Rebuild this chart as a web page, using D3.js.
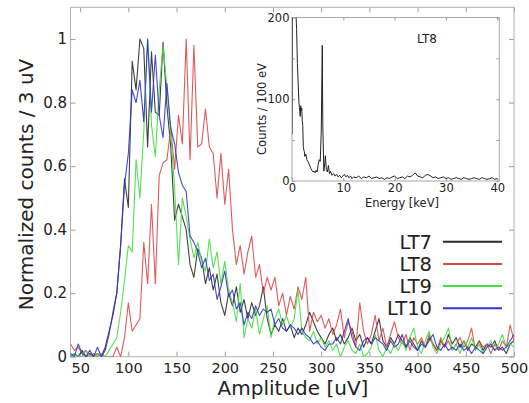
<!DOCTYPE html>
<html>
<head>
<meta charset="utf-8">
<script src="https://cdn.jsdelivr.net/npm/d3@7"></script>
<style>
  body { margin: 0; background: #fff; }
  svg { display: block; }
  text { font-family: "DejaVu Sans", sans-serif; fill: #222; }
</style>
</head>
<body>
<svg id="chart" width="529" height="403"></svg>
<script>
// ── Data: pulse amplitude spectra, 4 uV bins starting at 40 uV ──────────────
const binStart = 40;
const binWidth = 4;

const lt7 = [0.00,0.01,0.00,0.02,0.00,0.01,0.00,0.01,0.00,0.03,
  0.08,0.13,0.20,0.35,0.56,0.47,0.93,0.84,1.00,0.97,
  0.66,0.96,0.77,0.76,0.99,0.79,0.66,0.43,0.48,0.44,
  0.40,0.29,0.25,0.34,0.31,0.23,0.28,0.21,0.26,0.17,
  0.13,0.20,0.16,0.22,0.14,0.18,0.12,0.17,0.13,0.16,
  0.22,0.12,0.07,0.10,0.08,0.12,0.08,0.10,0.06,0.09,
  0.07,0.10,0.14,0.11,0.08,0.06,0.04,0.07,0.09,0.05,
  0.07,0.04,0.06,0.09,0.05,0.07,0.03,0.06,0.04,0.08,
  0.12,0.05,0.03,0.06,0.04,0.07,0.05,0.03,0.06,0.04,
  0.02,0.05,0.03,0.06,0.04,0.02,0.05,0.03,0.07,0.04,
  0.06,0.03,0.05,0.02,0.04,0.03,0.05,0.02,0.04,0.03,
  0.05,0.02,0.03,0.01,0.04,0.05];

const lt8 = [0.04,0.02,0.03,0.01,0.02,0.00,0.01,0.00,0.01,0.00,
  0.00,0.00,0.03,0.00,0.06,0.17,0.08,0.10,0.12,0.36,
  0.23,0.48,0.23,0.57,0.61,0.62,0.72,0.59,0.76,0.67,
  1.00,0.62,0.98,0.66,0.67,0.78,0.66,0.64,0.50,0.64,
  0.48,0.59,0.40,0.29,0.35,0.26,0.33,0.38,0.25,0.29,
  0.20,0.25,0.21,0.25,0.16,0.20,0.13,0.19,0.15,0.22,
  0.18,0.25,0.08,0.14,0.11,0.13,0.09,0.12,0.07,0.10,
  0.15,0.06,0.11,0.08,0.03,0.17,0.08,0.04,0.07,0.13,
  0.05,0.09,0.03,0.07,0.11,0.06,0.04,0.07,0.02,0.06,
  0.04,0.06,0.03,0.07,0.04,0.02,0.06,0.03,0.05,0.02,
  0.04,0.06,0.03,0.05,0.09,0.02,0.05,0.03,0.04,0.01,
  0.04,0.02,0.05,0.03,0.10,0.05];

const lt9 = [0.00,0.01,0.00,0.00,0.02,0.00,0.00,0.01,0.00,0.00,
  0.02,0.04,0.06,0.14,0.24,0.35,0.33,0.62,0.50,0.71,
  1.00,0.73,0.63,0.84,0.98,0.85,0.70,0.53,0.29,0.50,
  0.44,0.37,0.31,0.36,0.30,0.27,0.37,0.28,0.33,0.23,
  0.30,0.21,0.17,0.11,0.23,0.06,0.12,0.09,0.15,0.07,
  0.12,0.16,0.06,0.12,0.15,0.10,0.13,0.09,0.12,0.21,
  0.08,0.06,0.05,0.08,0.04,0.06,0.03,0.05,0.02,0.04,
  0.00,0.03,0.05,0.02,0.01,0.04,0.00,0.01,0.03,0.07,
  0.02,0.00,0.03,0.01,0.04,0.02,0.05,0.02,0.06,0.09,
  0.03,0.01,0.05,0.08,0.03,0.01,0.04,0.06,0.09,0.02,
  0.04,0.01,0.05,0.03,0.06,0.02,0.04,0.01,0.03,0.05,
  0.02,0.04,0.07,0.03,0.04,0.03];

const lt10 = [0.01,0.00,0.04,0.01,0.00,0.02,0.00,0.03,0.00,0.02,
  0.07,0.14,0.20,0.35,0.54,0.64,0.84,0.80,0.87,0.74,
  1.00,0.77,0.95,0.76,0.69,0.86,0.72,0.67,0.58,0.54,
  0.52,0.38,0.36,0.33,0.28,0.31,0.24,0.26,0.18,0.22,
  0.27,0.19,0.21,0.15,0.17,0.10,0.14,0.12,0.16,0.13,
  0.15,0.14,0.15,0.10,0.12,0.09,0.08,0.10,0.09,0.07,
  0.09,0.07,0.06,0.04,0.05,0.03,0.02,0.04,0.04,0.06,
  0.04,0.08,0.12,0.06,0.03,0.02,0.05,0.06,0.04,0.06,
  0.05,0.04,0.02,0.05,0.03,0.04,0.07,0.03,0.05,0.03,
  0.02,0.04,0.03,0.05,0.07,0.03,0.02,0.04,0.02,0.03,
  0.02,0.04,0.02,0.03,0.01,0.03,0.02,0.01,0.03,0.04,
  0.02,0.03,0.02,0.03,0.05,0.07];

const seriesNames = ['LT7', 'LT8', 'LT9', 'LT10'];
const seriesValues = [lt7, lt8, lt9, lt10];
const seriesColors = ['#2a2a2a', '#dd4848', '#44dd44', '#3434cc'];

const xTicks = [50, 100, 150, 200, 250, 300, 350, 400, 450, 500];
const yTicks = [0, 0.2, 0.4, 0.6, 0.8, 1];

// Inset: LT8 energy spectrum
const specEnergy = [0.0,0.05,0.15,0.3,0.5,0.7,0.9,1.05,1.2,1.35,1.45,1.6,1.7,1.8,1.9,2.0,
  2.1,2.2,2.3,2.4,2.5,2.7,2.9,3.1,3.3,3.5,3.7,3.9,4.1,4.3,4.5,4.7,4.9,5.1,5.3,5.5,5.7,
  5.9,6.0,6.2,6.4,6.5,6.7,6.9,7.1,7.3,7.5,7.8,8.1,8.4,8.7,9.0,9.3,9.6,9.9,10.2,10.5,
  10.8,11.1,11.4,11.7,12.0,12.5,13,13.5,14,14.5,15,15.5,16,16.5,17,17.5,18,18.5,19,19.5,
  20,20.5,21,21.5,22,22.5,23,23.5,24,24.5,25,25.5,26,26.5,27,27.5,28,28.5,29,29.5,30,
  30.5,31,31.5,32,32.5,33,33.5,34,34.5,35,35.5,36,36.5,37,37.5,38,38.5,39,39.5,40];
const specCounts = [57,240,260,250,240,215,185,144,120,96,90,79,92,86,89,74,
  68,42,38,36,30,33,26,24,21,18,15,13,11,12,10,13,11,20,26,24,60,
  166,70,12,22,31,14,11,19,9,12,7,9,6,8,5,7,4,6,8,5,
  7,4,6,3,5,4,6,3,5,4,6,3,4,5,3,4,2,4,3,5,
  6,3,4,5,3,6,5,7,10,6,5,4,7,8,6,4,5,3,4,5,3,
  4,2,3,4,3,2,4,3,2,3,4,3,2,4,3,2,3,4,2,3];
const insetXTicks = [0, 10, 20, 30, 40];
const insetYTicks = [0, 50, 100, 150, 200];
const insetYLabels = [0, 100, 200];

// ── Layout ──────────────────────────────────────────────────────────────────
const FRAME = { left: 70.5, right: 514, top: 7.3, bottom: 356.7 };
const INSET = { left: 292, right: 499.3, top: 17.5, bottom: 181 };
const TICK_COLOR = '#9a9a9a';

const svg = d3.select('#chart');

const x = d3.scaleLinear().domain([40, 500]).range([FRAME.left, FRAME.right]);
const y = d3.scaleLinear().domain([0, 1.1]).range([FRAME.bottom, FRAME.top]);

svg.append('defs').append('clipPath').attr('id', 'main-clip')
  .append('rect')
  .attr('x', FRAME.left).attr('y', FRAME.top)
  .attr('width', FRAME.right - FRAME.left).attr('height', FRAME.bottom - FRAME.top);

svg.select('defs').append('clipPath').attr('id', 'inset-clip')
  .append('rect')
  .attr('x', INSET.left).attr('y', INSET.top)
  .attr('width', INSET.right - INSET.left).attr('height', INSET.bottom - INSET.top);

function styleAxis(g, fontSize) {
  g.select('.domain').remove();
  g.selectAll('line').attr('stroke', TICK_COLOR).attr('stroke-width', 1);
  g.selectAll('text')
    .attr('fill', '#222')
    .attr('font-size', fontSize + 'px')
    .attr('font-family', '"DejaVu Sans", sans-serif');
}

// Main axes (ticks pointing inward on all four sides)
svg.append('g')
  .attr('transform', `translate(0,${FRAME.bottom})`)
  .call(d3.axisBottom(x).tickValues(xTicks).tickSize(-5).tickPadding(6.5))
  .call(g => styleAxis(g, 14.5));

svg.append('g')
  .attr('transform', `translate(0,${FRAME.top})`)
  .call(d3.axisTop(x).tickValues(xTicks).tickSize(-5).tickFormat(''))
  .call(g => styleAxis(g, 14.5));

svg.append('g')
  .attr('transform', `translate(${FRAME.left},0)`)
  .call(d3.axisLeft(y).tickValues(yTicks).tickSize(-5).tickPadding(3.5).tickFormat(d3.format('~g')))
  .call(g => styleAxis(g, 15));

svg.append('g')
  .attr('transform', `translate(${FRAME.right},0)`)
  .call(d3.axisRight(y).tickValues(yTicks).tickSize(-5).tickFormat(''))
  .call(g => styleAxis(g, 15));

svg.append('rect')
  .attr('x', FRAME.left).attr('y', FRAME.top)
  .attr('width', FRAME.right - FRAME.left).attr('height', FRAME.bottom - FRAME.top)
  .attr('fill', 'none').attr('stroke', '#b0b0b0').attr('stroke-width', 1);

// Series lines
const line = d3.line()
  .x((d, i) => x(binStart + i * binWidth))
  .y(d => y(d));

svg.append('g').attr('clip-path', 'url(#main-clip)')
  .selectAll('path')
  .data(seriesValues)
  .join('path')
  .attr('d', d => line(d))
  .attr('fill', 'none')
  .attr('stroke', (d, i) => seriesColors[i])
  .attr('stroke-width', 1.1)
  .attr('stroke-opacity', 0.9)
  .attr('stroke-linejoin', 'round');

// Axis titles
svg.append('text')
  .attr('x', 293).attr('y', 395)
  .attr('text-anchor', 'middle')
  .attr('font-size', '20px')
  .text('Amplitude [uV]');

svg.append('text')
  .attr('transform', 'translate(33,184.5) rotate(-90)')
  .attr('text-anchor', 'middle')
  .attr('font-size', '20px')
  .text('Normalized counts / 3 uV');

// Legend
const legend = svg.append('g').attr('class', 'legend');
const legendRow = legend.selectAll('g')
  .data(seriesNames)
  .join('g')
  .attr('transform', (d, i) => `translate(0,${241.7 + i * 22.2})`);

legendRow.append('text')
  .attr('x', 432).attr('y', 7)
  .attr('text-anchor', 'end')
  .attr('font-size', '19.5px')
  .text(d => d);

legendRow.append('line')
  .attr('x1', 443).attr('x2', 502)
  .attr('y1', 0).attr('y2', 0)
  .attr('stroke', (d, i) => seriesColors[i])
  .attr('stroke-width', 2);

// ── Inset ───────────────────────────────────────────────────────────────────
const ix = d3.scaleLinear().domain([0, 40.4]).range([INSET.left, INSET.right]);
const iy = d3.scaleLinear().domain([0, 200]).range([INSET.bottom, INSET.top]);

svg.append('rect')
  .attr('x', INSET.left).attr('y', INSET.top)
  .attr('width', INSET.right - INSET.left).attr('height', INSET.bottom - INSET.top)
  .attr('fill', '#fff');

svg.append('g')
  .attr('transform', `translate(0,${INSET.bottom})`)
  .call(d3.axisBottom(ix).tickValues(insetXTicks).tickSize(-3).tickPadding(3))
  .call(g => styleAxis(g, 11.5));

svg.append('g')
  .attr('transform', `translate(0,${INSET.top})`)
  .call(d3.axisTop(ix).tickValues(insetXTicks).tickSize(-3).tickFormat(''))
  .call(g => styleAxis(g, 11.5));

svg.append('g')
  .attr('transform', `translate(${INSET.left},0)`)
  .call(d3.axisLeft(iy).tickValues(insetYTicks).tickSize(-3).tickPadding(2.5)
    .tickFormat(d => insetYLabels.includes(d) ? d : ''))
  .call(g => styleAxis(g, 11.5));

svg.append('g')
  .attr('transform', `translate(${INSET.right},0)`)
  .call(d3.axisRight(iy).tickValues(insetYTicks).tickSize(-3).tickFormat(''))
  .call(g => styleAxis(g, 11.5));

svg.append('rect')
  .attr('x', INSET.left).attr('y', INSET.top)
  .attr('width', INSET.right - INSET.left).attr('height', INSET.bottom - INSET.top)
  .attr('fill', 'none').attr('stroke', '#a8a8a8').attr('stroke-width', 1);

const specLine = d3.line()
  .x((d, i) => ix(specEnergy[i]))
  .y(d => iy(d));

svg.append('path')
  .attr('clip-path', 'url(#inset-clip)')
  .attr('d', specLine(specCounts))
  .attr('fill', 'none')
  .attr('stroke', '#222')
  .attr('stroke-width', 1)
  .attr('stroke-linejoin', 'round');

svg.append('text')
  .attr('x', 427).attr('y', 43.3)
  .attr('text-anchor', 'middle')
  .attr('font-size', '12px')
  .text('LT8');

svg.append('text')
  .attr('x', 402).attr('y', 207)
  .attr('text-anchor', 'middle')
  .attr('font-size', '11.5px')
  .text('Energy [keV]');

svg.append('text')
  .attr('transform', 'translate(266,109) rotate(-90)')
  .attr('text-anchor', 'middle')
  .attr('font-size', '11.5px')
  .text('Counts / 100 eV');
</script>
</body>
</html>
